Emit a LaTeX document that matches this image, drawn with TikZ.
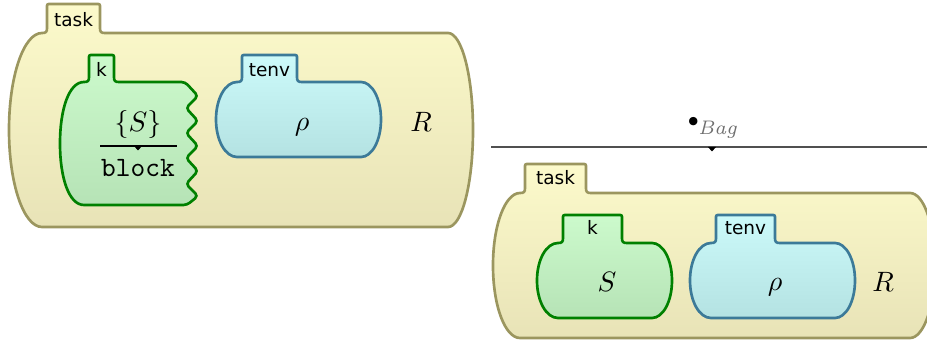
\documentclass[tikz,border=0pt]{standalone}
\usepackage{fontspec}
\newfontfamily\lblfont{DejaVu Sans}
\definecolor{taskfillA}{RGB}{252,250,203}
\definecolor{taskfillB}{RGB}{232,227,183}
\definecolor{taskdraw}{RGB}{155,150,95}
\definecolor{kfillA}{RGB}{204,250,204}
\definecolor{kfillB}{RGB}{182,227,182}
\definecolor{kdraw}{RGB}{0,128,0}
\definecolor{envfillA}{RGB}{204,250,250}
\definecolor{envfillB}{RGB}{180,226,226}
\definecolor{envdraw}{RGB}{60,122,152}
\definecolor{bagcol}{RGB}{110,110,110}
\definecolor{rulecol}{RGB}{80,80,80}
% #1 L, #2 T, #3 R, #4 B, #5 tabL, #6 tabR, #7 tabT, #8 right radius
\newcommand\kcellpath[8]{%
({#5-5},#2) .. controls ({#5-1},#2) and (#5,{#2-1}) .. (#5,{#2-5})
-- (#5,{#7+4}) .. controls (#5,#7) .. ({#5+4},#7)
-- ({#6-4},#7) .. controls (#6,#7) .. (#6,{#7+4})
-- (#6,{#2-5}) .. controls (#6,{#2-1}) and ({#6+1},#2) .. ({#6+5},#2)
-- ({#3-#8},#2) .. controls ({#3-0.45*#8},#2) and (#3,{#2+0.22*(#4-#2)}) .. (#3,{0.5*(#2+#4)})
.. controls (#3,{#4-0.22*(#4-#2)}) and ({#3-0.45*#8},#4) .. ({#3-#8},#4)
-- ({#5-5},#4) .. controls ({#1+0.45*(#5-5-#1)},#4) and (#1,{#4-0.22*(#4-#2)}) .. (#1,{0.5*(#2+#4)})
.. controls (#1,{#2+0.22*(#4-#2)}) and ({#1+0.45*(#5-5-#1)},#2) .. cycle}
\begin{document}
\begin{tikzpicture}[x=0.357pt,y=-0.357pt,
  taskcell/.style={draw=taskdraw,line width=0.95pt,top color=taskfillA,bottom color=taskfillB},
  kcell/.style={draw=kdraw,line width=0.95pt,top color=kfillA,bottom color=kfillB},
  envcell/.style={draw=envdraw,line width=0.95pt,top color=envfillA,bottom color=envfillB},
  lbl/.style={anchor=base,inner sep=0pt,font=\lblfont\fontsize{6.6}{8}\selectfont},
  mth/.style={anchor=base,inner sep=0pt},
  fracline/.style={line width=0.45pt,black},
  ruleline/.style={line width=0.5pt,rulecol},
  tip/.style={fill=black}]
\useasboundingbox (0,0) rectangle (927,343);
% ---------- left configuration ----------
\draw[taskcell] \kcellpath{9}{33}{473}{227}{47}{100}{4}{25};
\draw[kcell] (84,82) .. controls (88,82) and (89,81) .. (89,77) -- (89,59)
  .. controls (89,55) .. (93,55) -- (110,55) .. controls (114,55) .. (114,59)
  -- (114,77) .. controls (114,81) and (115,82) .. (119,82)
  [rounded corners=1.3pt] -- (185,82) -- (198,96) -- (186,108) -- (198,121) -- (186,133)
  -- (198,146) -- (186,158) -- (198,171) -- (186,184) -- (198,196) -- (187,205)
  [sharp corners] -- (84,205) .. controls (69,205) and (60,178) .. (60,143.5)
  .. controls (60,109) and (69,82) .. cycle;
\draw[envcell] \kcellpath{216}{82}{381}{157}{242}{297}{55}{20};
\node[lbl] (task1) at (73.5,26.5) {task};
\node[lbl] (k1) at (101.5,77) {k};
\node[lbl] (tenv1) at (269.5,77) {tenv};
\node[mth] (S1) at (138,132) {$\{S\}$};
\node[mth] (blk) at (138,176.5) {\texttt{block}};
\coordinate (fl) at (100,146);
\coordinate (fr) at (177,146);
\coordinate (fm) at (138,146);
\draw[fracline] (fl) -- (fr);
\fill[tip] ([xshift=-4*0.357pt]fm) -- ([xshift=4*0.357pt]fm) -- ([yshift=-4.5*0.357pt]fm) -- cycle;
\node[mth] (rho1) at (302,131) {$\rho$};
\node[mth] (R1) at (421,132) {$R$};
% ---------- rule line ----------
\node[anchor=base west,inner sep=0pt] (bag) at (687,135)
  {\raisebox{3pt}{$\scriptstyle\bullet$}\kern-0.3pt\textcolor{bagcol}{$\scriptstyle\mathit{Bag}$}};
\coordinate (rl) at (491,147);
\coordinate (rr) at (927,147);
\coordinate (rm) at (712,147);
\draw[ruleline] (rl) -- (rr);
\fill[tip] ([xshift=-4*0.357pt]rm) -- ([xshift=4*0.357pt]rm) -- ([yshift=-4.5*0.357pt]rm) -- cycle;
% ---------- right configuration ----------
\draw[taskcell] \kcellpath{493}{193}{935}{338}{525}{586}{164}{25};
\draw[kcell] \kcellpath{537}{243}{672}{318}{563}{622}{215}{20};
\draw[envcell] \kcellpath{690}{243}{855}{318}{716}{775}{215}{20};
\node[lbl] (task2) at (555.5,185) {task};
\node[lbl] (k2) at (592.5,235) {k};
\node[lbl] (tenv2) at (745.5,235) {tenv};
\node[mth] (S2) at (607,292) {$S$};
\node[mth] (rho2) at (775,291) {$\rho$};
\node[mth] (R2) at (883,292) {$R$};
\end{tikzpicture}
\end{document}
